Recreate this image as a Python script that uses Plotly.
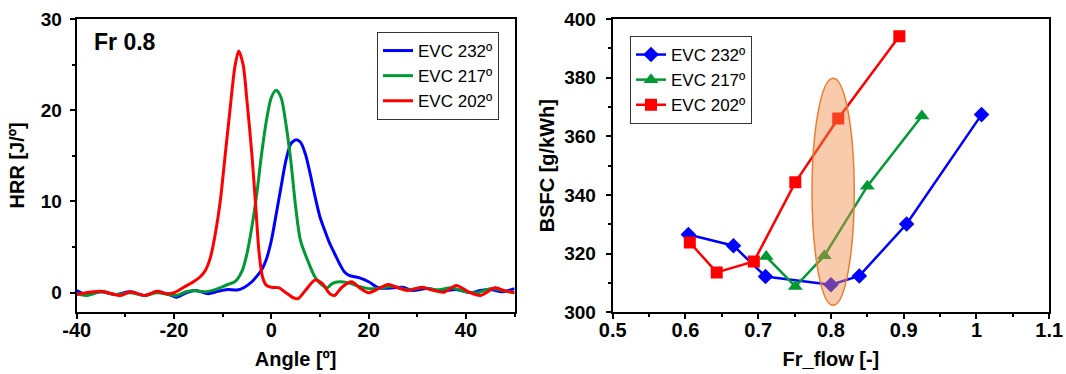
import plotly.graph_objects as go

# ---------------- Left panel: HRR vs crank angle ----------------
angle_232 = [-40, -38, -35, -32, -29, -26, -23.5, -21, -19.5, -17.5, -15.5, -13, -11, -9, -7, -5.5, -4, -3, -2, -1,
             0, 1, 2, 3, 4, 5, 6, 7, 8, 9, 10, 11, 12, 13, 14, 15, 16, 18, 20, 22, 24, 27, 29, 32, 35, 38, 41, 43,
             45, 47.5, 50]
hrr_232 = [0.25, -0.2, 0.1, -0.2, 0.1, -0.3, 0.1, -0.2, -0.5, 0.0, 0.25, -0.1, 0.15, 0.35, 0.3, 0.6, 1.2, 1.8, 2.5,
           3.7, 5.7, 8.6, 11.6, 14.5, 16.3, 16.75, 16.5, 15.2, 13.0, 10.5, 8.3, 6.8, 5.4, 4.3, 3.2, 2.3, 1.9, 1.65,
           1.2, 0.55, 0.5, 0.6, 0.25, 0.45, 0.2, 0.35, 0.0, 0.25, 0.35, 0.1, 0.45]

angle_217 = [-40, -38, -35, -32, -29, -26, -23.5, -21, -19.5, -17.5, -16, -14, -12.5, -11, -9, -7.5, -6, -5, -4, -3,
             -2, -1, 0, 1, 2, 3, 4, 5, 6, 7.5, 9, 10.5, 11.5, 12.5, 14, 16, 18, 20, 22, 25, 28, 31, 34, 37, 40, 42.5,
             45, 48, 50]
hrr_217 = [-0.1, -0.3, 0.1, -0.2, 0.0, -0.3, 0.0, -0.2, -0.3, 0.1, 0.25, 0.1, 0.2, 0.45, 0.9, 1.2, 2.4, 4.3, 7.2,
           10.8, 15.2, 18.9, 21.4, 22.2, 21.4, 18.5, 14.5, 9.4, 5.7, 3.5, 1.7, 0.8, 0.55, 1.0, 1.2, 1.05, 0.7, 0.45,
           0.45, 0.7, 0.3, 0.55, 0.3, 0.55, 0.1, 0.0, 0.45, 0.2, 0.0]

angle_202 = [-40, -35, -31, -29, -26, -23.5, -21.5, -20, -18, -16, -14.5, -13.5, -12.5, -11.5, -10.5, -9.5, -8.5,
             -7.5, -6.7, -5.8, -5, -4, -3.2, -2.5, -1.8, -1, 0, 1.5, 3, 4.5, 5.5, 7, 9, 10.5, 12, 13, 14.5, 16.5,
             18, 20, 22, 24, 26, 28, 31, 33, 35.5, 38, 40.5, 43, 46, 48, 50]
hrr_202 = [-0.2, 0.15, -0.3, 0.1, -0.3, 0.15, -0.1, 0.0, 0.6, 1.2, 1.8, 2.5, 3.9, 6.5, 10.0, 15.0, 20.0, 24.7, 26.5,
           25.0, 21.0, 15.2, 9.4, 4.3, 1.7, 0.8, 0.6, 0.55, 0.0, -0.55, -0.65, 0.25, 1.4, 1.0, -0.1, -0.3, 0.6, 1.2,
           0.6, 0.0, 0.45, 0.9, 0.55, 0.25, 0.6, 0.3, 0.05, 0.8, 0.1, -0.3, 0.55, 0.2, 0.0]

x_ticks_left = [-40, -20, 0, 20, 40]
x_ticktext_left = ["-40", "-20", "0", "20", "40"]
y_ticks_left = [0, 10, 20, 30]

# ---------------- Right panel: BSFC vs Fr_flow ----------------
fr_232 = [0.604, 0.666, 0.710, 0.800, 0.839, 0.904, 1.007]
bsfc_232 = [326.5, 322.7, 312.2, 309.4, 312.4, 330.1, 367.4]
fr_217 = [0.711, 0.751, 0.791, 0.850, 0.925]
bsfc_217 = [319.0, 308.8, 319.3, 343.0, 366.9]
fr_202 = [0.606, 0.643, 0.694, 0.751, 0.810, 0.894]
bsfc_202 = [323.8, 313.6, 317.3, 344.3, 366.1, 394.1]

x_ticks_right = [0.5, 0.6, 0.7, 0.8, 0.9, 1.0, 1.1]
x_ticktext_right = ["0.5", "0.6", "0.7", "0.8", "0.9", "1", "1.1"]
y_ticks_right = [300, 320, 340, 360, 380, 400]

ellipse_x = [0.774, 0.832]
ellipse_y = [302.4, 379.8]

series_names = ["EVC 232º", "EVC 217º", "EVC 202º"]
colors_left = ["#0000ff", "#009933", "#ff0000"]
colors_right = ["#0000ff", "#009933", "#ff0000"]

FONT = "Liberation Sans, Arial, sans-serif"

fig = go.Figure()

for xs, ys, name, c in zip([angle_232, angle_217, angle_202], [hrr_232, hrr_217, hrr_202],
                           series_names, colors_left):
    fig.add_trace(go.Scatter(x=xs, y=ys, mode="lines", name=name,
                             line=dict(color=c, width=3, shape="spline", smoothing=0.8),
                             xaxis="x", yaxis="y", legend="legend"))

symbols = ["diamond", "triangle-up", "square"]
sizes = [12, 13, 12]
for xs, ys, name, c, s, sz in zip([fr_232, fr_217, fr_202], [bsfc_232, bsfc_217, bsfc_202],
                                  series_names, colors_right, symbols, sizes):
    fig.add_trace(go.Scatter(x=xs, y=ys, mode="lines+markers", name=name,
                             line=dict(color=c, width=2.5),
                             marker=dict(symbol=s, size=sz, color=c),
                             xaxis="x2", yaxis="y2", legend="legend2"))

fig.add_shape(type="circle", xref="x2", yref="y2",
              x0=ellipse_x[0], x1=ellipse_x[1], y0=ellipse_y[0], y1=ellipse_y[1],
              fillcolor="rgba(240,140,70,0.45)", line=dict(color="#ED7D31", width=1.5), layer="above")

axis_common = dict(showline=True, linecolor="black", linewidth=2, mirror=True,
                   ticks="outside", ticklen=5, tickwidth=2, tickcolor="black",
                   showgrid=False, zeroline=False, automargin=False,
                   title_font=dict(family=FONT, size=20, color="black", weight="bold"))
xfont = dict(family=FONT, size=20, color="black", weight="bold")
yfont = dict(family=FONT, size=19, color="black", weight="bold")

fig.update_layout(
    template="none",
    width=1066, height=374,
    margin=dict(l=0, r=0, t=0, b=0),
    paper_bgcolor="white", plot_bgcolor="white",
    showlegend=True,
    xaxis=dict(domain=[76.7 / 1066, 514.6 / 1066], range=[-40, 50], anchor="y",
               tickvals=x_ticks_left, ticktext=x_ticktext_left, tickfont=xfont, ticklabelstandoff=-6,
               minor=dict(ticks="outside", ticklen=3, tickwidth=2, tickcolor="black", dtick=10, tick0=-40),
               title=dict(text="Angle [º]", standoff=12), **axis_common),
    yaxis=dict(domain=[(374 - 311.7) / 374, (374 - 19) / 374], range=[-2.08, 30], anchor="x",
               tickvals=y_ticks_left, tickfont=yfont,
               minor=dict(ticks="outside", ticklen=3, tickwidth=2, tickcolor="black", dtick=5, tick0=0),
               title=dict(text="HRR [J/º]", standoff=11), ticklabelstandoff=4, **axis_common),
    xaxis2=dict(domain=[612.7 / 1066, 1049.2 / 1066], range=[0.5, 1.1], anchor="y2",
                tickvals=x_ticks_right, ticktext=x_ticktext_right, tickfont=xfont, ticklabelstandoff=-6,
                minor=dict(ticks="outside", ticklen=3, tickwidth=2, tickcolor="black", dtick=0.05, tick0=0.5),
                title=dict(text="Fr_flow [-]", standoff=12), **axis_common),
    yaxis2=dict(domain=[(374 - 312.3) / 374, (374 - 19) / 374], range=[300, 400], anchor="x2",
                tickvals=y_ticks_right, tickfont=yfont,
                minor=dict(ticks="outside", ticklen=3, tickwidth=2, tickcolor="black", dtick=10, tick0=300),
                title=dict(text="BSFC [g/kWh]", standoff=4), ticklabelstandoff=6, **axis_common),
    legend=dict(x=377 / 1066, y=1 - 32 / 374, xanchor="left", yanchor="top",
                bordercolor="#333333", borderwidth=1, bgcolor="white",
                font=dict(family=FONT, size=17, color="black"), tracegroupgap=0),
    legend2=dict(x=630 / 1066, y=1 - 36 / 374, xanchor="left", yanchor="top",
                 bordercolor="#333333", borderwidth=1, bgcolor="white",
                 font=dict(family=FONT, size=17, color="black"), tracegroupgap=0),
    annotations=[dict(text="Fr 0.8", x=92 / 1066, y=1 - 42 / 374, xref="paper", yref="paper",
                      xanchor="left", yanchor="middle", showarrow=False,
                      font=dict(family=FONT, size=23, color="black", weight="bold"))],
)

fig.write_html("out.html")
